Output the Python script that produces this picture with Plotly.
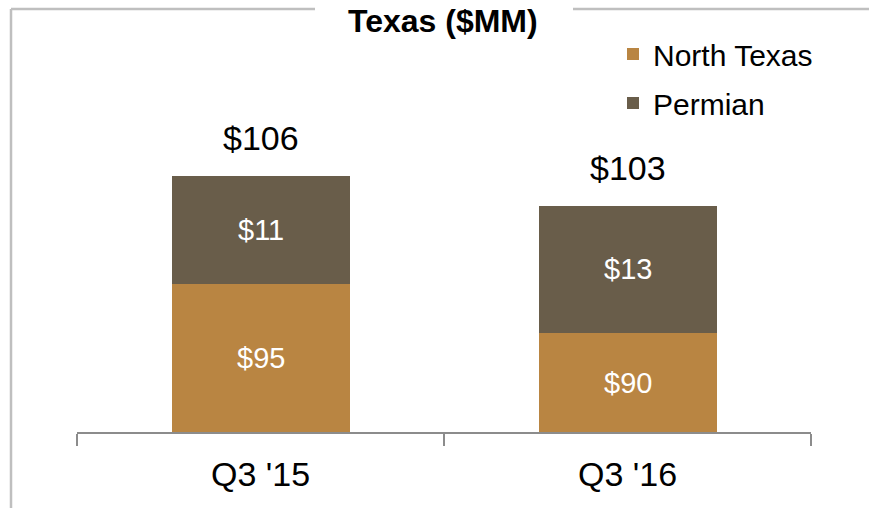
import plotly.graph_objects as go

# Texas revenue by region, $MM
quarters = ["Q3 '15", "Q3 '16"]
north_texas = [95, 90]
permian = [11, 13]
totals = [106, 103]

NT_COLOR = "rgb(185,133,66)"
PERMIAN_COLOR = "rgb(105,93,74)"
FONT = "Liberation Sans, Arial, sans-serif"

W, H = 869, 508
M_L, M_R, M_T, M_B = 77, 58, 40, 76
Y_MIN, Y_MAX = 79.9, 119.9

plot_w = W - M_L - M_R
plot_h = H - M_T - M_B


def px_x(x):
    return (x - M_L) / plot_w


def px_y(y):
    return (H - M_B - y) / plot_h


fig = go.Figure()
fig.add_trace(go.Bar(
    x=quarters, y=north_texas, name="North Texas", legendgroup="nt",
    marker=dict(color=NT_COLOR, line=dict(width=0)),
    hoverinfo="skip",
))
fig.add_trace(go.Bar(
    x=quarters, y=permian, name="Permian", legendgroup="pm",
    marker=dict(color=PERMIAN_COLOR, line=dict(width=0)),
    hoverinfo="skip",
))

annotations = []
for q, nt, pm, tot in zip(quarters, north_texas, permian, totals):
    annotations.append(dict(
        x=q, y=(Y_MIN + nt) / 2, text=f"${nt}", showarrow=False,
        font=dict(family=FONT, size=29, color="white"),
    ))
    annotations.append(dict(
        x=q, y=nt + pm / 2, text=f"${pm}", showarrow=False,
        font=dict(family=FONT, size=29, color="white"),
    ))
    annotations.append(dict(
        x=q, y=tot, text=f"${tot}", showarrow=False, yanchor="middle", yshift=38,
        font=dict(family=FONT, size=34, color="black"),
    ))

# chart title sitting on the frame's top edge
annotations.append(dict(
    xref="paper", yref="paper", x=px_x(443), y=px_y(1),
    text="<b>Texas ($MM)</b>", showarrow=False, xanchor="center", yanchor="top",
    font=dict(family=FONT, size=32, color="black"),
))

frame = dict(color="#BFBFBF", width=2.5)
shapes = [
    dict(type="line", xref="paper", yref="paper",
         x0=px_x(11), x1=px_x(11), y0=px_y(9), y1=px_y(H + 5), line=frame),
    dict(type="line", xref="paper", yref="paper",
         x0=px_x(11), x1=px_x(315), y0=px_y(9), y1=px_y(9), line=frame),
    dict(type="line", xref="paper", yref="paper",
         x0=px_x(573), x1=px_x(W + 5), y0=px_y(9), y1=px_y(9), line=frame),
]

fig.update_layout(
    width=W, height=H,
    margin=dict(l=M_L, r=M_R, t=M_T, b=M_B),
    paper_bgcolor="white", plot_bgcolor="white",
    barmode="stack", bargap=0.515,
    showlegend=True,
    legend=dict(
        x=px_x(613), y=px_y(28), xanchor="left", yanchor="top",
        traceorder="grouped", tracegroupgap=7,
        font=dict(family=FONT, size=30, color="black"),
        bgcolor="rgba(0,0,0,0)",
    ),
    xaxis=dict(
        showline=True, linecolor="#8C8C8C", linewidth=1.5,
        ticks="outside", tickson="boundaries", ticklen=12,
        tickcolor="#8C8C8C", tickwidth=1.5,
        ticklabelstandoff=11,
        tickfont=dict(family=FONT, size=34, color="black"),
        showgrid=False, zeroline=False,
    ),
    yaxis=dict(range=[Y_MIN, Y_MAX], visible=False, showgrid=False, zeroline=False),
    annotations=annotations,
    shapes=shapes,
)

fig.write_html("out.html")
